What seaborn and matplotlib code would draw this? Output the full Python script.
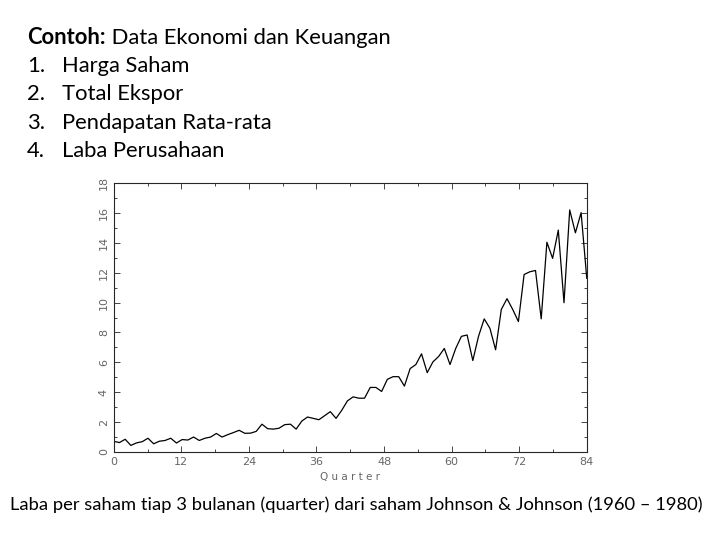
import numpy as np
import pandas as pd
import seaborn as sns
import matplotlib.pyplot as plt
from matplotlib.ticker import MultipleLocator

# Johnson & Johnson quarterly earnings per share, 1960-1980
eps = [0.71, 0.63, 0.85, 0.44, 0.61, 0.69, 0.92, 0.55,
       0.72, 0.77, 0.92, 0.60, 0.83, 0.80, 1.00, 0.77,
       0.92, 1.00, 1.24, 1.00, 1.16, 1.30, 1.45, 1.25,
       1.26, 1.38, 1.86, 1.56, 1.53, 1.59, 1.83, 1.86,
       1.53, 2.07, 2.34, 2.25, 2.16, 2.43, 2.70, 2.25,
       2.79, 3.42, 3.69, 3.60, 3.60, 4.32, 4.32, 4.05,
       4.86, 5.04, 5.04, 4.41, 5.58, 5.85, 6.57, 5.31,
       6.03, 6.39, 6.93, 5.85, 6.93, 7.74, 7.83, 6.12,
       7.74, 8.91, 8.28, 6.84, 9.54, 10.26, 9.54, 8.73,
       11.88, 12.06, 12.15, 8.91, 14.04, 12.96, 14.85, 9.99,
       16.20, 14.67, 16.02, 11.61]
quarter = np.linspace(0, 84, len(eps))
x_ticks = [0, 12, 24, 36, 48, 60, 72, 84]
y_ticks = [0, 2, 4, 6, 8, 10, 12, 14, 16, 18]

judul = "Contoh:"
judul_sisa = " Data Ekonomi dan Keuangan"
daftar = ["Harga Saham", "Total Ekspor", "Pendapatan Rata-rata", "Laba Perusahaan"]
keterangan = "Laba per saham tiap 3 bulanan (quarter) dari saham Johnson & Johnson (1960 \u2013 1980)"

df = pd.DataFrame({"Quarter": quarter, "EPS": eps})

sns.set_style("ticks")
plt.rcParams['font.family'] = ['Lato', 'DejaVu Sans']

fig = plt.figure(figsize=(7.2, 5.4), dpi=100)
ax = fig.add_axes([0.158, 0.163, 0.657, 0.498])
sns.lineplot(data=df, x="Quarter", y="EPS", color="black", linewidth=0.9, ax=ax)

ax.set_xlim(0, 84)
ax.set_ylim(0, 18)
ax.set_xticks(x_ticks)
ax.set_yticks(y_ticks)
ax.xaxis.set_minor_locator(MultipleLocator(6))
ax.yaxis.set_minor_locator(MultipleLocator(1))
ax.tick_params(which="both", direction="in", top=True, right=True,
               colors="#444444", labelcolor="#666666", labelsize=8)
ax.tick_params(which="major", length=4, width=0.7)
ax.tick_params(which="minor", length=2.5, width=0.7)
for lbl in ax.get_yticklabels():
    lbl.set_rotation(90)
    lbl.set_va("center")
for s in ax.spines.values():
    s.set_linewidth(0.8)
ax.set_xlabel("Q u a r t e r", fontsize=7.5, color="#666666", family="DejaVu Sans", labelpad=4)
ax.set_ylabel("")
for lbl in ax.get_xticklabels() + ax.get_yticklabels():
    lbl.set_family("DejaVu Sans")

# teks di atas grafik
t = fig.text(27 / 720, 1 - 38 / 540, judul, fontsize=15.8, fontweight="bold", va="center", color="black")
fig.canvas.draw()
bb = t.get_window_extent()
fig.text(bb.x1 / 720, 1 - 38 / 540, judul_sisa, fontsize=15.8, va="center", color="black")
for i, item in enumerate(daftar):
    y = 1 - (66 + i * 28.4) / 540
    fig.text(27 / 720, y, f"{i + 1}.", fontsize=15.8, va="center", color="black")
    fig.text(62 / 720, y, item, fontsize=15.8, va="center", color="black")

fig.text(356 / 720, 1 - 505 / 540, keterangan, fontsize=13.2, ha="center", va="center", color="black")

fig.savefig("out.png", dpi=100, facecolor="white")
